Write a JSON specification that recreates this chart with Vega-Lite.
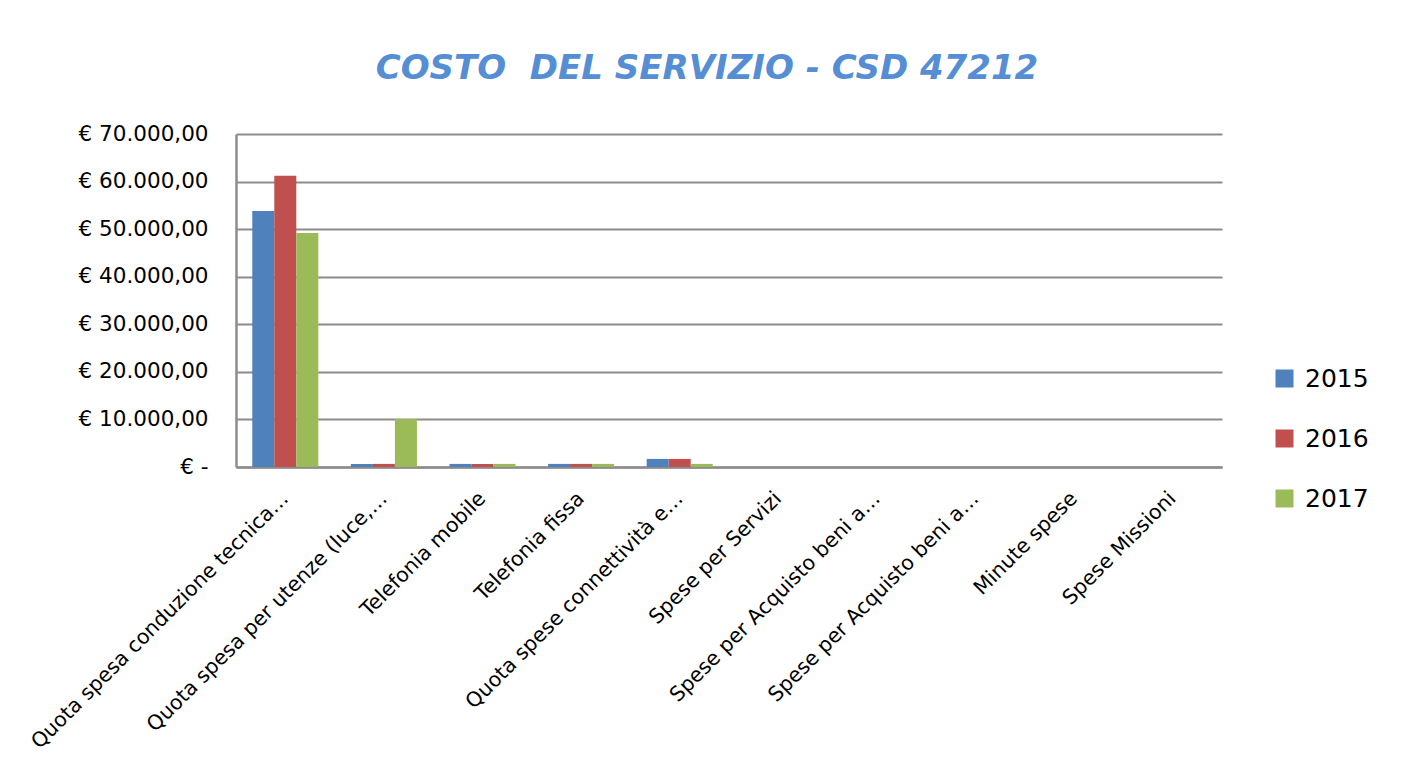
{
  "$schema": "https://vega.github.io/schema/vega-lite/v6.json",
  "width": 986,
  "height": 333,
  "autosize": {"type": "none"},
  "padding": {"left": 236, "top": 134, "right": 185, "bottom": 304},
  "background": "white",
  "title": {
    "text": "COSTO \u00a0DEL SERVIZIO - CSD 47212",
    "font": "DejaVu Sans",
    "fontSize": 34,
    "fontStyle": "italic",
    "fontWeight": "bold",
    "color": "#558ED5",
    "anchor": "middle",
    "dx": -22,
    "offset": 37
  },
  "data": {
    "values": [
      {"voce": "Quota spesa conduzione tecnica…", "anno": "2015", "costo": 53800},
      {"voce": "Quota spesa conduzione tecnica…", "anno": "2016", "costo": 61200},
      {"voce": "Quota spesa conduzione tecnica…", "anno": "2017", "costo": 49200},
      {"voce": "Quota spesa per utenze (luce,…", "anno": "2015", "costo": 650},
      {"voce": "Quota spesa per utenze (luce,…", "anno": "2016", "costo": 650},
      {"voce": "Quota spesa per utenze (luce,…", "anno": "2017", "costo": 10100},
      {"voce": "Telefonia mobile", "anno": "2015", "costo": 650},
      {"voce": "Telefonia mobile", "anno": "2016", "costo": 650},
      {"voce": "Telefonia mobile", "anno": "2017", "costo": 650},
      {"voce": "Telefonia fissa", "anno": "2015", "costo": 650},
      {"voce": "Telefonia fissa", "anno": "2016", "costo": 650},
      {"voce": "Telefonia fissa", "anno": "2017", "costo": 650},
      {"voce": "Quota spese connettività e…", "anno": "2015", "costo": 1700},
      {"voce": "Quota spese connettività e…", "anno": "2016", "costo": 1700},
      {"voce": "Quota spese connettività e…", "anno": "2017", "costo": 650},
      {"voce": "Spese per Servizi", "anno": "2015", "costo": 0},
      {"voce": "Spese per Servizi", "anno": "2016", "costo": 0},
      {"voce": "Spese per Servizi", "anno": "2017", "costo": 0},
      {"voce": "Spese per Acquisto beni a… ", "anno": "2015", "costo": 0},
      {"voce": "Spese per Acquisto beni a… ", "anno": "2016", "costo": 0},
      {"voce": "Spese per Acquisto beni a… ", "anno": "2017", "costo": 0},
      {"voce": "Spese per Acquisto beni a…", "anno": "2015", "costo": 0},
      {"voce": "Spese per Acquisto beni a…", "anno": "2016", "costo": 0},
      {"voce": "Spese per Acquisto beni a…", "anno": "2017", "costo": 0},
      {"voce": "Minute spese", "anno": "2015", "costo": 0},
      {"voce": "Minute spese", "anno": "2016", "costo": 0},
      {"voce": "Minute spese", "anno": "2017", "costo": 0},
      {"voce": "Spese Missioni", "anno": "2015", "costo": 0},
      {"voce": "Spese Missioni", "anno": "2016", "costo": 0},
      {"voce": "Spese Missioni", "anno": "2017", "costo": 0}
    ]
  },
  "mark": {"type": "bar"},
  "encoding": {
    "x": {
      "field": "voce",
      "type": "nominal",
      "sort": null,
      "scale": {"paddingInner": 0.33, "paddingOuter": 0.165},
      "axis": {
        "title": null,
        "labelAngle": -45,
        "labelAlign": "right",
        "labelBaseline": "middle",
        "labelFont": "DejaVu Sans",
        "labelFontSize": 20.5,
        "labelColor": "#000000",
        "labelPadding": 28,
        "labelLimit": 400,
        "ticks": false,
        "domainColor": "#8c8c8c",
        "domainWidth": 2.5,
        "grid": false
      }
    },
    "xOffset": {"field": "anno", "type": "nominal", "scale": {"paddingInner": 0}},
    "y": {
      "field": "costo",
      "type": "quantitative",
      "scale": {"domain": [0, 70000], "nice": false},
      "axis": {
        "title": null,
        "values": [0, 10000, 20000, 30000, 40000, 50000, 60000, 70000],
        "labelExpr": "datum.value == 0 ? '€ -\u00a0\u00a0\u00a0\u00a0' : '€ ' + replace(replace(replace(format(datum.value, ',.2f'), ',', '#'), '.', ','), '#', '.')",
        "labelFont": "DejaVu Sans",
        "labelFontSize": 21.5,
        "labelColor": "#000000",
        "labelPadding": 28,
        "ticks": false,
        "domainColor": "#8c8c8c",
        "domainWidth": 2.5,
        "gridColor": "#8c8c8c",
        "gridWidth": 2
      }
    },
    "color": {
      "field": "anno",
      "type": "nominal",
      "scale": {"domain": ["2015", "2016", "2017"], "range": ["#4F81BD", "#C0504D", "#9BBB59"]},
      "legend": {
        "title": null,
        "orient": "none",
        "legendX": 1036,
        "legendY": 232,
        "symbolType": "square",
        "symbolSize": 324,
        "symbolStrokeWidth": 0,
        "labelFont": "DejaVu Sans",
        "labelFontSize": 25,
        "labelColor": "#000000",
        "labelOffset": 8,
        "rowPadding": 34
      }
    }
  },
  "config": {
    "view": {"stroke": null}
  }
}
